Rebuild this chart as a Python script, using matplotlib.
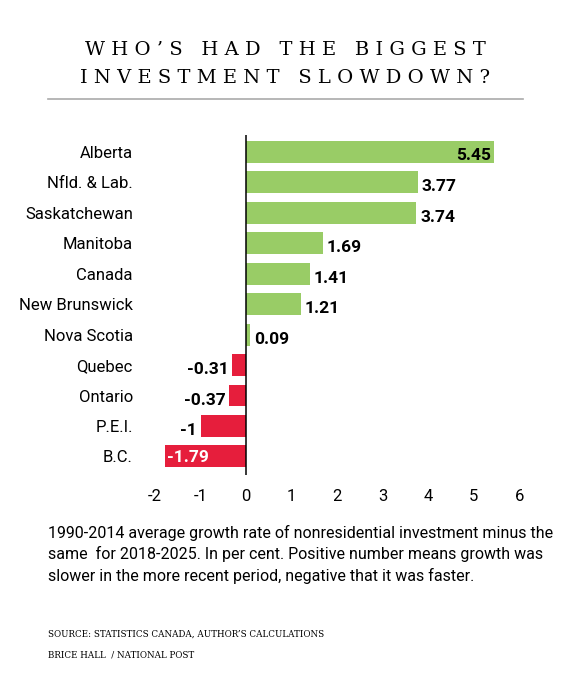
import matplotlib.pyplot as plt
from matplotlib.lines import Line2D
from matplotlib import font_manager

provinces = ['Alberta', 'Nfld. & Lab.', 'Saskatchewan', 'Manitoba', 'Canada',
             'New Brunswick', 'Nova Scotia', 'Quebec', 'Ontario', 'P.E.I.', 'B.C.']
values = [5.45, 3.77, 3.74, 1.69, 1.41, 1.21, 0.09, -0.31, -0.37, -1, -1.79]
labels = ['5.45', '3.77', '3.74', '1.69', '1.41', '1.21', '0.09', '-0.31', '-0.37', '-1', '-1.79']
xticks = [-2, -1, 0, 1, 2, 3, 4, 5, 6]

green = '#99cc66'
red = '#e61e3c'

names = {f.name for f in font_manager.fontManager.ttflist}
narrow = 'Liberation Sans Narrow' if 'Liberation Sans Narrow' in names else 'Roboto'
plt.rcParams['font.family'] = [narrow, 'DejaVu Sans']

fig = plt.figure(figsize=(5.7, 6.93), dpi=100)
ax = fig.add_axes([0.272, 0.315, 0.639, 0.49])

ypos = list(range(len(provinces)))
cols = [green if v > 0 else red for v in values]
ax.barh(ypos, values, height=0.72, color=cols)
ax.set_ylim(len(provinces) - 0.4, -0.55)
ax.set_xlim(-2, 6)
ax.axvline(0, color='black', lw=1.1)

for y, v, l in zip(ypos, values, labels):
    if l == '5.45':
        ax.text(v - 0.08, y + 0.12, l, ha='right', va='center', fontsize=12.5, fontweight='bold')
    elif l == '-1.79':
        ax.text(v + 0.05, y + 0.05, l, ha='left', va='center', fontsize=12.5, fontweight='bold', color='white')
    elif v > 0:
        ax.text(v + 0.08, y + 0.15, l, ha='left', va='center', fontsize=12.5, fontweight='bold')
    else:
        ax.text(v - 0.08, y + 0.15, l, ha='right', va='center', fontsize=12.5, fontweight='bold')

ax.set_yticks(ypos)
ax.set_yticklabels(provinces, fontsize=12)
ax.set_xticks(xticks)
ax.set_xticklabels([str(t) for t in xticks], fontsize=12)
ax.tick_params(length=0, pad=10)
ax.tick_params(axis='y', pad=16)
for s in ax.spines.values():
    s.set_visible(False)

fig.text(0.5, 0.928, 'W H O \u2019 S   H A D   T H E   B I G G E S T', ha='center', va='center',
         family='DejaVu Serif', fontsize=14)
fig.text(0.5, 0.888, 'I N V E S T M E N T   S L O W D O W N ?', ha='center', va='center',
         family='DejaVu Serif', fontsize=14)
fig.add_artist(Line2D([0.084, 0.918], [0.857, 0.857], color='#aaaaaa', lw=1.2))

fig.text(0.084, 0.2, '1990-2014 average growth rate of nonresidential investment minus the\n'
         'same  for 2018-2025. In per cent. Positive number means growth was\n'
         'slower in the more recent period, negative that it was faster.',
         ha='left', va='center', fontsize=11.5, linespacing=1.4)
fig.text(0.084, 0.085, 'SOURCE: STATISTICS CANADA, AUTHOR\u2019S CALCULATIONS',
         ha='left', va='center', family='DejaVu Serif', fontsize=6.3)
fig.text(0.084, 0.055, 'BRICE HALL  / NATIONAL POST',
         ha='left', va='center', family='DejaVu Serif', fontsize=6.3)

fig.savefig('out.png', dpi=100)
